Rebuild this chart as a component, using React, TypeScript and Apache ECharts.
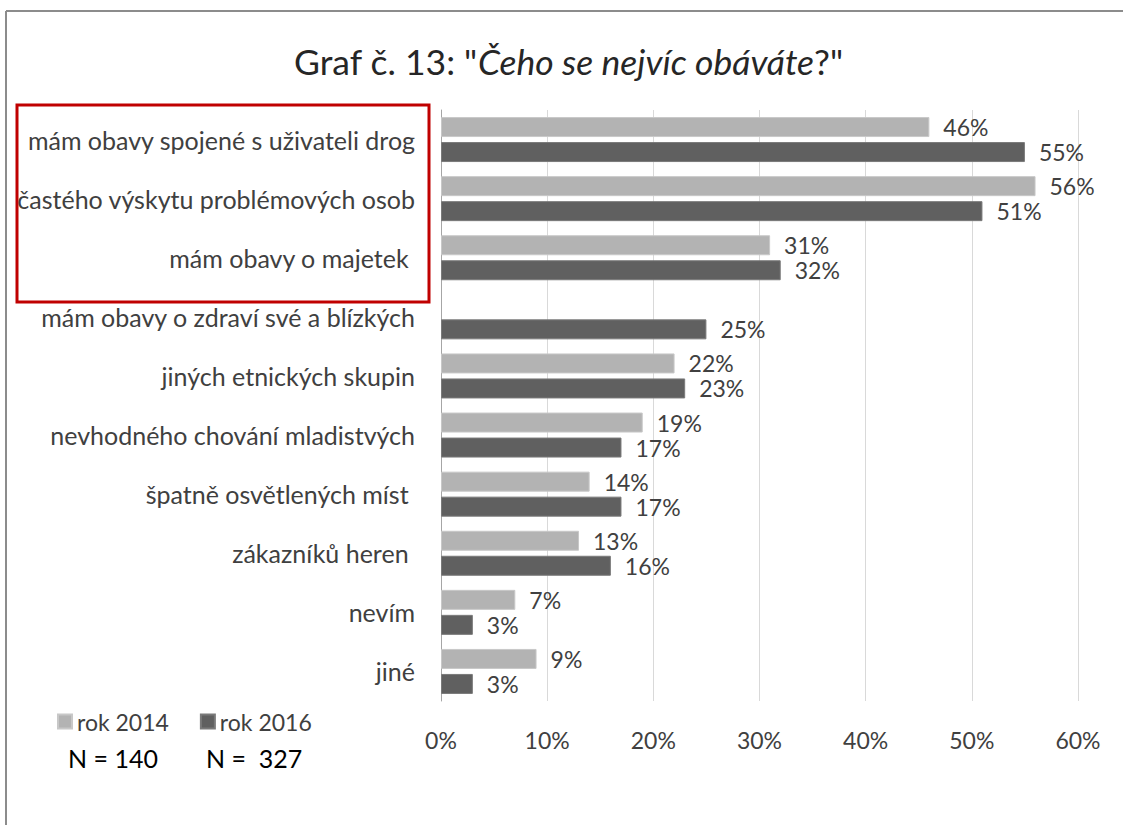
import React, { useEffect, useRef } from "react";
import * as echarts from "echarts";

const categories = [
  "mám obavy spojené s uživateli drog",
  "častého výskytu problémových osob",
  "mám obavy o majetek ",
  "mám obavy o zdraví své a blízkých",
  "jiných etnických skupin",
  "nevhodného chování mladistvých",
  "špatně osvětlených míst ",
  "zákazníků heren ",
  "nevím",
  "jiné",
];
const values2014: (number | null)[] = [46, 56, 31, null, 22, 19, 14, 13, 7, 9];
const values2016: number[] = [55, 51, 32, 25, 23, 17, 17, 16, 3, 3];
const seriesNames = ["rok 2014", "rok 2016"];
const sampleSizes = ["N = 140", "N =  327"];
const FONT = "Lato, 'Open Sans', sans-serif";

export default function App() {
  const ref = useRef<HTMLDivElement>(null);
  useEffect(() => {
    if (!ref.current) return;
    const chart = echarts.init(ref.current, null, { renderer: "svg" });
    const labelStyle = {
      show: true,
      position: "right" as const,
      distance: 14,
      formatter: "{c}%",
      fontSize: 23,
      lineHeight: 23,
      color: "#404040",
      fontFamily: FONT,
    };
    chart.setOption({
      animation: false,
      backgroundColor: "#ffffff",
      textStyle: { fontFamily: FONT },
      title: {
        text: '{n|Graf č. 13: "}{i|Čeho se nejvíc obáváte}{n|?"}',
        left: 289,
        top: 38,
        textStyle: {
          rich: {
            n: { fontSize: 35.5, color: "#262626", fontWeight: "normal", fontFamily: FONT },
            i: { fontSize: 35.5, color: "#262626", fontWeight: "normal", fontStyle: "italic", fontFamily: FONT },
          },
        },
      },
      legend: {
        data: seriesNames,
        left: 52,
        top: 705,
        icon: "rect",
        itemWidth: 14,
        itemHeight: 14,
        itemGap: 31,
        textStyle: { fontSize: 23, color: "#404040", fontFamily: FONT },
      },
      grid: { left: 441, right: 45, top: 110, bottom: 124 },
      xAxis: {
        type: "value",
        min: 0,
        max: 60,
        interval: 10,
        axisLabel: { formatter: "{value}%", fontSize: 23, color: "#404040", margin: 27, fontFamily: FONT },
        axisLine: { show: false },
        axisTick: { show: false },
        splitLine: { show: true, lineStyle: { color: "#d9d9d9", width: 1 } },
      },
      yAxis: {
        type: "category",
        data: categories,
        inverse: true,
        axisLabel: { fontSize: 25, color: "#404040", margin: 26, fontFamily: FONT },
        axisLine: { show: true, lineStyle: { color: "#a6a6a6", width: 1 } },
        axisTick: { show: false },
      },
      series: [
        {
          name: seriesNames[0],
          type: "bar",
          data: values2014,
          barWidth: 20,
          barGap: "25%",
          itemStyle: { color: "#b3b3b3", borderColor: "#c8c8c8", borderWidth: 1 },
          label: labelStyle,
        },
        {
          name: seriesNames[1],
          type: "bar",
          data: values2016,
          barWidth: 20,
          barGap: "25%",
          itemStyle: { color: "#606060", borderColor: "#7a7a7a", borderWidth: 1 },
          label: labelStyle,
        },
      ],
      graphic: [
        { type: "line", shape: { x1: 6, y1: 11, x2: 1123, y2: 11 }, style: { stroke: "#8c8c8c", lineWidth: 2 } },
        { type: "line", shape: { x1: 6, y1: 11, x2: 6, y2: 825 }, style: { stroke: "#8c8c8c", lineWidth: 2 } },
        {
          type: "rect",
          shape: { x: 17, y: 105, width: 412, height: 197 },
          style: { fill: "none", stroke: "#c00000", lineWidth: 3 },
        },
        {
          type: "text",
          left: 68,
          top: 745,
          style: { text: sampleSizes[0], fontSize: 25, fill: "#000000", fontFamily: FONT },
        },
        {
          type: "text",
          left: 206,
          top: 745,
          style: { text: sampleSizes[1], fontSize: 25, fill: "#000000", fontFamily: FONT },
        },
      ],
    });
    return () => chart.dispose();
  }, []);
  return <div ref={ref} style={{ width: 1123, height: 825, position: "absolute", left: 0, top: 0 }} />;
}
